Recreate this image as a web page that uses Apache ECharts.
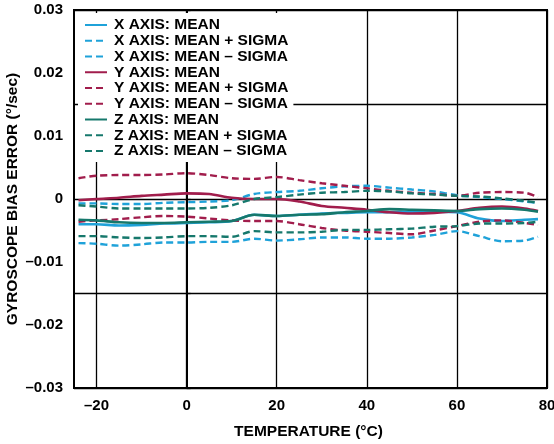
<!DOCTYPE html>
<html>
<head>
<meta charset="utf-8">
<script src="https://cdn.jsdelivr.net/npm/echarts@6/dist/echarts.min.js"></script>
<style>
  html, body { margin: 0; padding: 0; background: #fff; }
  #chart { width: 554px; height: 444px; }
</style>
</head>
<body>
<div id="chart"></div>
<script>
// Temperature sample points (°C)
const temps = [-24, -20, -15, -10, -5, 0, 5, 10, 15, 20, 25, 30, 35, 40, 45, 50, 55, 60, 65, 70, 75, 78];

// Gyroscope bias error (°/sec)
const xMean = [-0.0040, -0.0040, -0.0042, -0.0041, -0.0039, -0.0038, -0.0037, -0.0035, -0.0025, -0.0027, -0.0025, -0.0023, -0.0022, -0.0021, -0.0021, -0.0020, -0.0020, -0.0021, -0.0031, -0.0035, -0.0033, -0.0032];
const xPlus = [-0.0007, -0.0007, -0.0008, -0.0008, -0.0006, -0.0005, -0.0004, -0.0002, 0.0008, 0.0011, 0.0013, 0.0017, 0.0020, 0.0021, 0.0018, 0.0015, 0.0012, 0.0006, 0.0003, 0.0000, -0.0004, -0.0006];
const xMinus = [-0.0070, -0.0071, -0.0074, -0.0072, -0.0069, -0.0069, -0.0068, -0.0068, -0.0063, -0.0066, -0.0064, -0.0061, -0.0061, -0.0063, -0.0063, -0.0061, -0.0057, -0.0051, -0.0059, -0.0067, -0.0066, -0.0060];

const yMean = [-0.0002, 0.0000, 0.0002, 0.0005, 0.0007, 0.0009, 0.0008, 0.0002, 0.0000, 0.0000, -0.0004, -0.0011, -0.0014, -0.0017, -0.0021, -0.0023, -0.0022, -0.0019, -0.0014, -0.0012, -0.0015, -0.0019];
const yPlus = [0.0033, 0.0037, 0.0038, 0.0038, 0.0039, 0.0041, 0.0038, 0.0033, 0.0032, 0.0035, 0.0030, 0.0025, 0.0021, 0.0017, 0.0013, 0.0010, 0.0008, 0.0005, 0.0010, 0.0011, 0.0010, 0.0003];
const yMinus = [-0.0036, -0.0034, -0.0032, -0.0029, -0.0027, -0.0028, -0.0031, -0.0034, -0.0035, -0.0035, -0.0040, -0.0046, -0.0050, -0.0052, -0.0054, -0.0056, -0.0050, -0.0043, -0.0036, -0.0034, -0.0038, -0.0041];

const zMean = [-0.0033, -0.0034, -0.0037, -0.0038, -0.0038, -0.0037, -0.0036, -0.0035, -0.0025, -0.0027, -0.0025, -0.0024, -0.0021, -0.0019, -0.0016, -0.0017, -0.0018, -0.0019, -0.0016, -0.0015, -0.0017, -0.0020];
const zPlus = [-0.0010, -0.0012, -0.0015, -0.0015, -0.0015, -0.0015, -0.0014, -0.0010, 0.0000, 0.0003, 0.0007, 0.0010, 0.0011, 0.0013, 0.0012, 0.0009, 0.0007, 0.0005, 0.0004, 0.0001, -0.0003, -0.0006];
const zMinus = [-0.0059, -0.0059, -0.0061, -0.0062, -0.0061, -0.0059, -0.0059, -0.0060, -0.0051, -0.0053, -0.0053, -0.0052, -0.0049, -0.0049, -0.0048, -0.0047, -0.0044, -0.0043, -0.0039, -0.0039, -0.0038, -0.0036];

// Axis ticks, labels and grid positions
const xTickLabels = [-20, 0, 20, 40, 60, 80];
const xGridValues = [-20, 0, 20, 40, 60, 80];
const yTickLabels = [-0.03, -0.02, -0.01, 0, 0.01, 0.02, 0.03];
const yGridValues = [-0.03, -0.015, 0, 0.015, 0.03];

const seriesNames = [
  'X AXIS: MEAN', 'X AXIS: MEAN + SIGMA', 'X AXIS: MEAN \u2013 SIGMA',
  'Y AXIS: MEAN', 'Y AXIS: MEAN + SIGMA', 'Y AXIS: MEAN \u2013 SIGMA',
  'Z AXIS: MEAN', 'Z AXIS: MEAN + SIGMA', 'Z AXIS: MEAN \u2013 SIGMA'
];
const seriesValues = [xMean, xPlus, xMinus, yMean, yPlus, yMinus, zMean, zPlus, zMinus];

const BLUE = '#1fa2d9';
const MAROON = '#a11d4c';
const TEAL = '#16786c';
const seriesColors = [BLUE, BLUE, BLUE, MAROON, MAROON, MAROON, TEAL, TEAL, TEAL];

const FONT = 'Liberation Sans, Arial, sans-serif';

function fmt(v, digits) {
  if (Math.abs(v) < 1e-12) return '0';
  const s = Math.abs(v).toFixed(digits);
  return (v < 0 ? '\u2013' : '') + s;
}

const series = seriesValues.map((vals, i) => ({
  name: seriesNames[i],
  type: 'line',
  data: temps.map((t, k) => [t, vals[k]]),
  symbol: 'none',
  smooth: 0.3,
  color: seriesColors[i],
  lineStyle: {
    color: seriesColors[i],
    width: i % 3 === 0 ? 2.6 : 2.4,
    type: i % 3 === 0 ? 'solid' : [7, 4]
  },
  z: 3
}));

const chart = echarts.init(document.getElementById('chart'), null, { renderer: 'canvas' });
chart.setOption({
  animation: false,
  backgroundColor: '#fff',
  grid: {
    left: 74, right: 7, top: 10, bottom: 56,
    outerBoundsMode: 'none',
    containLabel: false,
    show: true, borderColor: '#000', borderWidth: 2, backgroundColor: 'transparent'
  },
  legend: {
    orient: 'vertical',
    left: 78,
    top: 13,
    padding: [4, 5, 3, 6],
    itemWidth: 22,
    itemHeight: 14,
    itemGap: -0.25,
    backgroundColor: '#fff',
    selectedMode: false,
    itemStyle: { opacity: 0 },
    textStyle: { fontFamily: FONT, fontWeight: 'bold', fontSize: 15.5, color: '#000', padding: [0, 0, 0, 2] },
    data: seriesNames
  },
  xAxis: {
    type: 'value',
    min: -25,
    max: 80,
    name: 'TEMPERATURE (\u00B0C)',
    nameLocation: 'middle',
    nameGap: 36,
    nameMoveOverlap: false,
    nameTextStyle: { fontFamily: FONT, fontWeight: 'bold', fontSize: 15.5, color: '#000', padding: [0, 4, 0, 0] },
    axisLine: { show: true, onZero: false, lineStyle: { color: '#000', width: 2 } },
    axisTick: { show: false, customValues: xGridValues },
    axisLabel: {
      customValues: xTickLabels,
      margin: 10,
      fontFamily: FONT, fontWeight: 'bold', fontSize: 15, color: '#000',
      formatter: v => fmt(v, 0)
    },
    splitLine: { show: true, lineStyle: { color: '#000', width: 1.3 } }
  },
  yAxis: {
    type: 'value',
    min: -0.03,
    max: 0.03,
    name: 'GYROSCOPE BIAS ERROR (\u00B0/sec)',
    nameLocation: 'middle',
    nameGap: 53,
    nameMoveOverlap: false,
    nameTextStyle: { fontFamily: FONT, fontWeight: 'bold', fontSize: 15.5, color: '#000' },
    axisLine: { show: true, lineStyle: { color: '#000', width: 2 } },
    axisTick: { show: true, inside: true, length: 4, customValues: yGridValues, lineStyle: { color: '#000', width: 1.3 } },
    axisLabel: {
      customValues: yTickLabels,
      margin: 11,
      fontFamily: FONT, fontWeight: 'bold', fontSize: 15, color: '#000',
      formatter: v => fmt(v, 2)
    },
    splitLine: { show: true, lineStyle: { color: '#000', width: 1.3 } }
  },
  series: series
});
</script>
</body>
</html>
